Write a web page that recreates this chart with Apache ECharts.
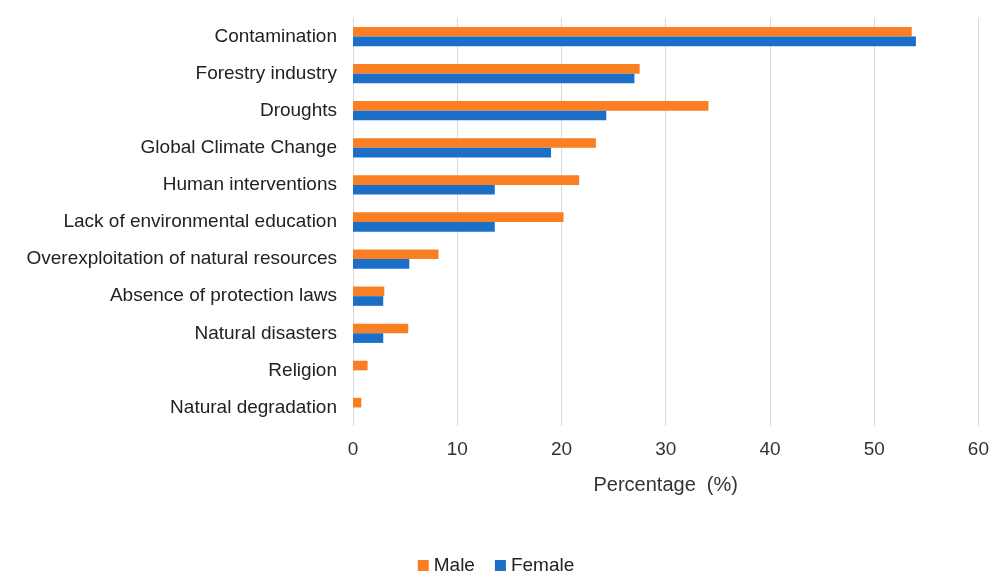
<!DOCTYPE html>
<html><head><meta charset="utf-8">
<script src="https://cdn.jsdelivr.net/npm/echarts@6/dist/echarts.min.js"></script>
<style>html,body{margin:0;padding:0;background:#fff}#c{width:992px;height:572px}</style>
</head><body><div id="c"></div>
<script>
const categories = ["Contamination","Forestry industry","Droughts","Global Climate Change","Human interventions","Lack of environmental education","Overexploitation of natural resources","Absence of protection laws","Natural disasters","Religion","Natural degradation"];
const male = [53.6,27.5,34.1,23.3,21.7,20.2,8.2,3.0,5.3,1.4,0.8];
const female = [54.0,27.0,24.3,19.0,13.6,13.6,5.4,2.9,2.9,null,null];
const chart = echarts.init(document.getElementById('c'));
const font = "'Liberation Sans', Arial, sans-serif";
chart.setOption({
  animation:false,
  grid:{left:353,right:11,top:18,bottom:146,containLabel:false},
  legend:{top:551,left:'center',itemWidth:11,itemHeight:11,itemGap:20,icon:'rect',
    textStyle:{fontFamily:font,fontSize:19,color:'#222'},data:['Male','Female']},
  xAxis:{type:'value',min:0,max:60,interval:10,name:'Percentage  (%)',nameLocation:'middle',nameGap:49,
    nameTextStyle:{fontFamily:font,fontSize:20,color:'#333'},
    axisLine:{show:false},axisTick:{show:false},
    axisLabel:{fontFamily:font,fontSize:19,color:'#333',margin:14},
    splitLine:{lineStyle:{color:'#d9d9d9'}}},
  yAxis:{type:'category',data:categories,inverse:true,
    axisLine:{show:false},axisTick:{show:false},
    axisLabel:{fontFamily:font,fontSize:19,color:'#222',margin:16}},
  series:[
    {name:'Male',type:'bar',data:male,itemStyle:{color:'#F97F22'},barGap:'0%',barCategoryGap:'48%'},
    {name:'Female',type:'bar',data:female,itemStyle:{color:'#1C6FC8'},barGap:'0%',barCategoryGap:'48%'}
  ]
});
</script></body></html>
